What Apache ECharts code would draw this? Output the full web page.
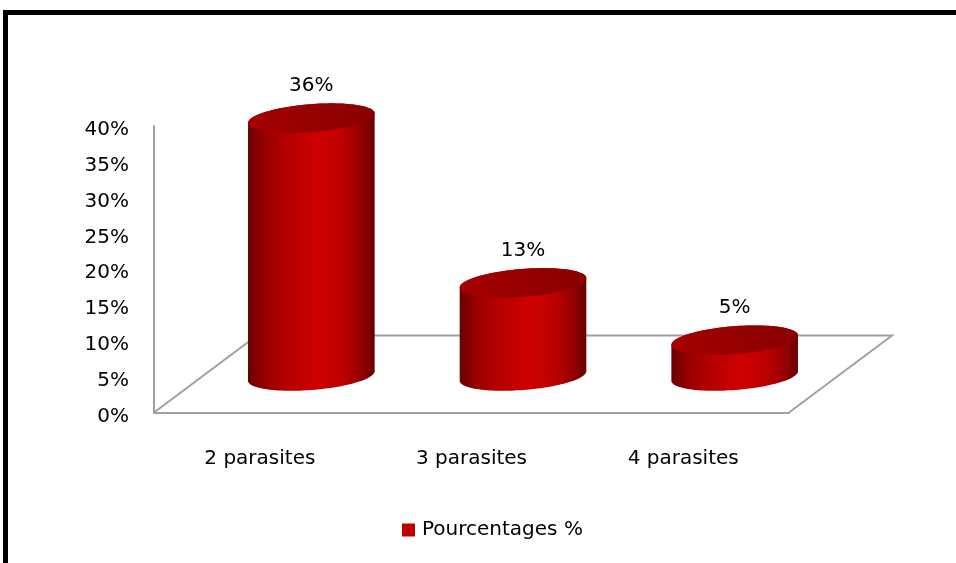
<!DOCTYPE html>
<html>
<head>
<meta charset="utf-8">
<script src="https://cdn.jsdelivr.net/npm/echarts@6/dist/echarts.min.js"></script>
<style>
html,body{margin:0;padding:0;background:#fff;}
#c{width:956px;height:563px;}
</style>
</head>
<body>
<div id="c"></div>
<script>
// ---- data ----
const categories = ['2 parasites', '3 parasites', '4 parasites'];
const values = [36, 13, 5];
const seriesName = 'Pourcentages %';
const yMin = 0, yMax = 40, yStep = 5;

// ---- chart ----
const FONT = 'DejaVu Sans';
const DEPTH = [103, -77];      // 3D floor depth offset (px)
const TILT = -4.5 * Math.PI / 180;

const chart = echarts.init(document.getElementById('c'));

function ellPt(cx, cy, a, b, t) {
  const c = Math.cos(TILT), s = Math.sin(TILT);
  const x0 = a * Math.cos(t), y0 = b * Math.sin(t);
  return [cx + x0 * c - y0 * s, cy + x0 * s + y0 * c];
}

const sideGrad = () => new echarts.graphic.LinearGradient(0, 0, 1, 0, [
  {offset: 0, color: '#680000'},
  {offset: 0.12, color: '#960000'},
  {offset: 0.3, color: '#b40000'},
  {offset: 0.55, color: '#cf0000'},
  {offset: 0.75, color: '#bc0000'},
  {offset: 0.9, color: '#930000'},
  {offset: 1, color: '#680000'}
]);
const topGrad = () => new echarts.graphic.LinearGradient(0, 1, 1, 0, [
  {offset: 0, color: '#a80000'},
  {offset: 0.5, color: '#960000'},
  {offset: 1, color: '#880000'}
]);

function renderCylinder(params, api) {
  const idx = api.value(0), val = api.value(1);
  const p0 = api.coord([idx, 0]);
  const p1 = api.coord([idx, val]);
  const band = api.size([1, 0])[0];
  const a = band * 0.3, b = a * 0.22;
  const cx = p0[0] + DEPTH[0] * 0.5;
  const by = p0[1] + DEPTH[1] * 0.5 + 2;
  const ty = p1[1] + DEPTH[1] * 0.5 + 2;
  const N = 60;
  const side = [];
  for (let i = 0; i <= N; i++) side.push(ellPt(cx, by, a, b, Math.PI * i / N));
  for (let i = 0; i <= N; i++) side.push(ellPt(cx, ty, a, b, Math.PI + Math.PI * i / N));
  const top = [];
  for (let i = 0; i < 2 * N; i++) top.push(ellPt(cx, ty, a, b, Math.PI * i / N));
  return {
    type: 'group',
    children: [
      {type: 'polygon', shape: {points: side}, style: {fill: sideGrad()}},
      {type: 'polygon', shape: {points: top}, style: {fill: topGrad()}},
      {type: 'text', style: {
        text: val + '%', x: cx, y: ty - 32,
        align: 'center', verticalAlign: 'middle',
        fontSize: 20, fontFamily: FONT, fill: '#000'
      }}
    ]
  };
}

function renderFloor(params, api) {
  const cs = params.coordSys;
  const x0 = cs.x, x1 = cs.x + cs.width, y0 = cs.y + cs.height;
  return {
    type: 'polyline',
    shape: {points: [
      [x0, y0], [x0 + DEPTH[0], y0 + DEPTH[1]],
      [x1 + DEPTH[0], y0 + DEPTH[1]], [x1, y0]
    ]},
    style: {stroke: '#a0a0a0', lineWidth: 2, fill: null}
  };
}

chart.setOption({
  animation: false,
  backgroundColor: '#fff',
  graphic: [{
    type: 'rect', z: 100,
    shape: {x: 5.5, y: 12.5, width: 1000, height: 600},
    style: {fill: null, stroke: '#000', lineWidth: 5}
  }],
  grid: {left: 154, right: 167, top: 126, bottom: 150.5, containLabel: false},
  legend: {
    data: [{name: seriesName, icon: 'rect'}],
    left: 397, top: 515,
    itemWidth: 13, itemHeight: 13, itemGap: 10,
    textStyle: {fontSize: 20, fontFamily: FONT, color: '#000', padding: [0, 0, 0, 2]}
  },
  xAxis: {
    type: 'category', data: categories,
    axisLine: {show: true, lineStyle: {color: '#a0a0a0', width: 2}},
    axisTick: {show: false},
    axisLabel: {fontSize: 20, fontFamily: FONT, color: '#000', margin: 36},
    splitLine: {show: false}
  },
  yAxis: {
    type: 'value', min: yMin, max: yMax, interval: yStep,
    axisLine: {show: true, lineStyle: {color: '#a0a0a0', width: 2}},
    axisTick: {show: false},
    splitLine: {show: false},
    axisLabel: {margin: 25,
      formatter: v => '{a|' + v + '%}',
      rich: {a: {fontSize: 20, fontFamily: FONT, color: '#000', padding: [8, 0, 0, 0]}}}
  },
  series: [
    {
      type: 'custom', name: 'floor', silent: true, z: 1,
      renderItem: renderFloor, data: [[0, 0]], encode: {x: 0, y: 1}
    },
    {
      type: 'custom', name: seriesName, z: 2,
      itemStyle: {color: '#c00000'},
      renderItem: renderCylinder,
      data: categories.map((c, i) => [i, values[i]]),
      encode: {x: 0, y: 1}
    }
  ]
});
</script>
</body>
</html>
